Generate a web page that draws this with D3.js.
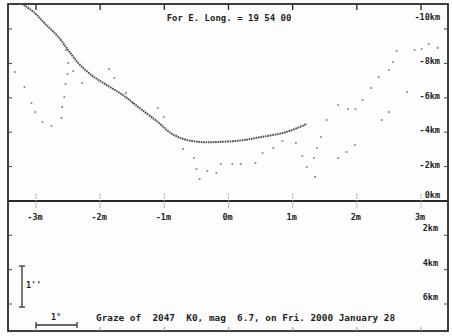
<!DOCTYPE html>
<html>
<head>
<meta charset="utf-8">
<script src="https://cdn.jsdelivr.net/npm/d3@7/dist/d3.min.js"></script>
<style>
  body { margin: 0; background: #fdfdfd; }
  text { font-family: "DejaVu Sans Mono", "Liberation Mono", monospace; font-weight: bold; fill: #1e1e1e; }
</style>
</head>
<body>
<svg id="draw-here"></svg>
<script>
// minutes from central graze, km north/south of limit
const minuteTicks = [-3, -2, -1, 0, 1, 2, 3];
const upperKmTicks = [-10, -8, -6, -4, -2, 0];
const lowerKmTicks = [2, 4, 6];

// predicted limb profile
const profileMin = [-3.19, -3.02, -2.87, -2.65, -2.50, -2.34, -2.14, -1.88, -1.63, -1.41, -1.10, -0.90, -0.70, -0.43, -0.17, 0.19, 0.48, 0.90, 1.22];
const profileKm  = [-11.4, -10.93, -10.35, -9.53, -8.78, -8.02, -7.33, -6.70, -6.12, -5.47, -4.59, -3.95, -3.60, -3.43, -3.43, -3.52, -3.70, -4.01, -4.48];

// scattered limb points
const scatterMin = [-3.33, -3.18, -3.07, -3.01, -2.90, -2.76, -2.53, -2.50, -2.51, -2.54, -2.56, -2.59, -2.60, -2.42, -2.28,
  -1.86, -1.78, -1.60, -1.49, -1.10, -1.01, -0.71, -0.54, -0.50, -0.33, -0.45, -0.19, -0.12, 0.06, 0.19, 0.42, 0.53, 0.70,
  0.84, 1.05, 1.15, 1.22, 1.33, 1.38, 1.44, 1.53, 1.71, 1.35, 1.86, 1.98, 2.09, 2.22, 2.34, 2.50, 2.56, 2.62, 2.90, 3.01,
  3.12, 3.26, 2.50, 2.39, 2.78, 1.97, 1.84, 1.71];
const scatterKm = [-7.5, -6.63, -5.70, -5.17, -4.59, -4.36, -8.78, -8.02, -7.38, -6.80, -6.05, -5.47, -4.83, -7.56, -6.86,
  -7.67, -7.15, -6.28, -5.70, -5.41, -4.88, -3.02, -2.50, -1.86, -1.74, -1.28, -1.63, -2.15, -2.15, -2.15, -2.21, -2.79, -3.08,
  -3.49, -3.37, -2.62, -1.98, -2.50, -3.08, -3.72, -4.71, -5.58, -1.40, -5.35, -5.35, -5.87, -6.57, -7.21, -7.62, -8.08, -8.72, -8.78, -8.84,
  -9.13, -8.90, -5.17, -4.71, -6.34, -3.26, -2.85, -2.50];

const titleText = "For E. Long. = 19 54 00";
const footText = "Graze of  2047  K0, mag  6.7, on Fri. 2000 January 28";

const W = 452, H = 336;
const L = 8, R = 448, T = 4, B = 331, MID = 201;

let svg = d3.select('#draw-here').attr('width', W).attr('height', H);

let x = d3.scaleLinear().domain([-3, 3]).range([36, 421]);
let yUp = d3.scaleLinear().domain([0, -10]).range([MID, 29]);
let yLow = d3.scaleLinear().domain([0, 6]).range([MID, 304]);

// frame
svg.append('rect')
  .attr('x', L).attr('y', T).attr('width', R - L).attr('height', B - T)
  .attr('fill', 'none').attr('stroke', '#2a2a2a').attr('stroke-width', 1.8);
svg.append('line')
  .attr('x1', L).attr('x2', R).attr('y1', MID).attr('y2', MID)
  .attr('stroke', '#2a2a2a').attr('stroke-width', 1.8);

// minute ticks: top, divider, bottom
let mt = svg.append('g').attr('stroke', '#333');
minuteTicks.forEach(m => {
  mt.append('line').attr('x1', x(m)).attr('x2', x(m)).attr('y1', T).attr('y2', T + 6).attr('stroke-width', 1.4);
  mt.append('line').attr('x1', x(m)).attr('x2', x(m)).attr('y1', MID - 7).attr('y2', MID + 8)
    .attr('stroke-width', 1).attr('stroke-dasharray', '1.5 1.5').attr('stroke', '#888');
  mt.append('line').attr('x1', x(m)).attr('x2', x(m)).attr('y1', B - 4).attr('y2', B)
    .attr('stroke-width', 1).attr('stroke', '#999');
});

svg.selectAll('.mlab')
  .data(minuteTicks)
  .enter().append('text')
  .attr('class', 'mlab')
  .attr('x', d => x(d) - 1)
  .attr('y', 220)
  .attr('text-anchor', 'middle')
  .attr('font-size', 8.5)
  .text(d => d + 'm');

// km ticks at both edges
let kt = svg.append('g').attr('stroke', '#444').attr('stroke-width', 1);
upperKmTicks.filter(k => k !== 0).forEach(k => {
  kt.append('line').attr('x1', L).attr('x2', L + 4).attr('y1', yUp(k)).attr('y2', yUp(k));
  kt.append('line').attr('x1', R - 4).attr('x2', R).attr('y1', yUp(k)).attr('y2', yUp(k));
});
lowerKmTicks.forEach(k => {
  kt.append('line').attr('x1', L).attr('x2', L + 4).attr('y1', yLow(k)).attr('y2', yLow(k));
  kt.append('line').attr('x1', R - 4).attr('x2', R).attr('y1', yLow(k)).attr('y2', yLow(k));
});

svg.selectAll('.ulab')
  .data(upperKmTicks)
  .enter().append('text')
  .attr('class', 'ulab')
  .attr('x', 440)
  .attr('y', d => d === -10 ? 20 : (d === 0 ? MID - 3 : yUp(d) + 1))
  .attr('text-anchor', 'end')
  .attr('font-size', 8.5)
  .text(d => d + 'km');

svg.selectAll('.llab')
  .data(lowerKmTicks)
  .enter().append('text')
  .attr('class', 'llab')
  .attr('x', 438)
  .attr('y', d => yLow(d) - 4)
  .attr('text-anchor', 'end')
  .attr('font-size', 8.5)
  .text(d => d + 'km');

// scattered points
let pts = scatterMin.map((m, i) => [m, scatterKm[i]]);
svg.selectAll('.sc')
  .data(pts)
  .enter().append('circle')
  .attr('class', 'sc')
  .attr('cx', d => x(d[0]))
  .attr('cy', d => yUp(d[1]))
  .attr('r', 1.05)
  .attr('fill', '#8a8a8a');

// profile line, drawn as close dots
let prof = profileMin.map((m, i) => [m, profileKm[i]]);
let line = d3.line()
  .x(d => x(d[0]))
  .y(d => yUp(d[1]))
  .curve(d3.curveCatmullRom);
svg.append('path')
  .datum(prof)
  .attr('d', line)
  .attr('fill', 'none')
  .attr('stroke', '#4a4a4a')
  .attr('stroke-width', 2)
  .attr('stroke-dasharray', '1.6 0.8');

// title and footer
svg.append('text')
  .attr('x', 229).attr('y', 21)
  .attr('text-anchor', 'middle')
  .attr('font-size', 9)
  .text(titleText);

svg.append('text')
  .attr('x', 96).attr('y', 321)
  .attr('font-size', 9.4)
  .attr('xml:space', 'preserve')
  .style('white-space', 'pre')
  .text(footText);

// scale bars
let sb = svg.append('g').attr('stroke', '#333').attr('stroke-width', 1.3);
sb.append('line').attr('x1', 22).attr('x2', 22).attr('y1', 266).attr('y2', 307);
sb.append('line').attr('x1', 19).attr('x2', 25).attr('y1', 266).attr('y2', 266);
sb.append('line').attr('x1', 19).attr('x2', 25).attr('y1', 307).attr('y2', 307);
sb.append('line').attr('x1', 36).attr('x2', 77).attr('y1', 325).attr('y2', 325);
sb.append('line').attr('x1', 36).attr('x2', 36).attr('y1', 322).attr('y2', 328);
sb.append('line').attr('x1', 77).attr('x2', 77).attr('y1', 322).attr('y2', 328);

svg.append('text').attr('x', 26).attr('y', 288).attr('font-size', 8.5).text("1''");
svg.append('text').attr('x', 56).attr('y', 320).attr('text-anchor', 'middle').attr('font-size', 8.5).text('1°');
</script>
</body>
</html>
